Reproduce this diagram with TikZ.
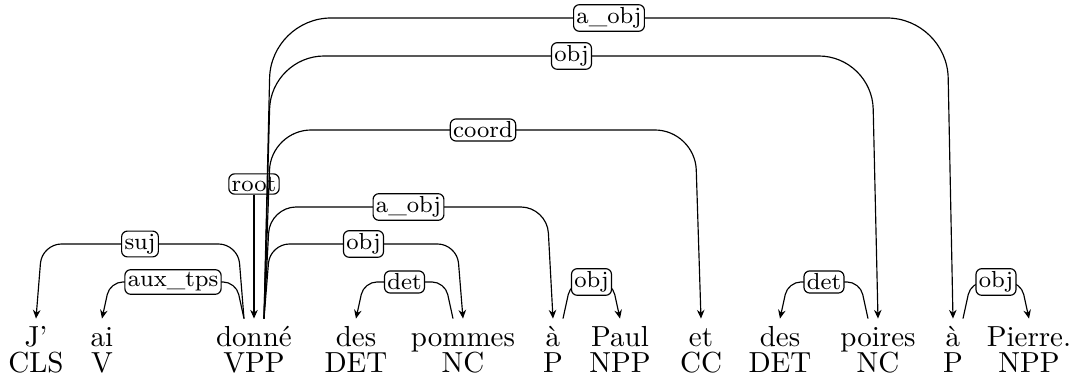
\documentclass[tikz,border=0pt]{standalone}
\usepackage{fontspec}
\usetikzlibrary{calc,arrows.meta}
\tikzset{
  word/.style={anchor=base, inner xsep=0pt, inner ysep=2pt, text height=7.6pt, text depth=0pt, font=\normalsize},
  tag/.style={anchor=base, inner sep=0pt, font=\normalsize},
  lab/.style={draw, fill=white, rounded corners=2pt, inner sep=1pt, font=\footnotesize, line width=0.4pt},
  dep/.style={draw, line width=0.4pt, -{Stealth[length=3pt,width=2.6pt]}},
}
\begin{document}
\begin{tikzpicture}[x=0.3448pt, y=-0.3448pt]
\useasboundingbox (0,0) rectangle (1077,379);
% levels
\coordinate (L1) at (0,282);
\coordinate (L2) at (0,244);
\coordinate (L3) at (0,207);
\coordinate (L5) at (0,130);
\coordinate (L7) at (0,56);
\coordinate (L8) at (0,18);
% words
\node[word] (w1) at (36,347) {J’};
\node[word] (w2) at (102,347) {ai};
\node[word] (w3) at (254,347) {donné};
\node[word] (w4) at (356,347) {des};
\node[word] (w5) at (463,347) {pommes};
\node[word] (w6) at (553,347) {à};
\node[word] (w7) at (620,347) {Paul};
\node[word] (w8) at (701,347) {et};
\node[word] (w9) at (780,347) {des};
\node[word] (w10) at (878,347) {poires};
\node[word] (w11) at (953,347) {à};
\node[word] (w12) at (1029,347) {Pierre.};
% tags
\node[tag] (t1) at (36,373) {CLS};
\node[tag] (t2) at (102,373) {V};
\node[tag] (t3) at (254,373) {VPP};
\node[tag] (t4) at (356,373) {DET};
\node[tag] (t5) at (463,373) {NC};
\node[tag] (t6) at (553,373) {P};
\node[tag] (t7) at (620,373) {NPP};
\node[tag] (t8) at (701,373) {CC};
\node[tag] (t9) at (780,373) {DET};
\node[tag] (t10) at (878,373) {NC};
\node[tag] (t11) at (953,373) {P};
\node[tag] (t12) at (1029,373) {NPP};
% root
\node[lab] (rt) at (254,184) {root};
\draw[dep] (rt) -- (w3.north);
% edges
\draw[dep, rounded corners=6.7pt] ($(w3.north)+(-10,0)$) -- ($(w3.north|-L2)+(-16,0)$) -- node[lab]{suj} ($(w1.north|-L2)+(6,0)$) -- (w1.north);
\draw[dep, rounded corners=4.4pt] ($(w3.north)+(-10,0)$) -- ($(w3.north|-L1)+(-18,0)$) -- node[lab]{aux\_tps} ($(w2.north|-L1)+(8,0)$) -- (w2.north);
\draw[dep, rounded corners=6.7pt] ($(w3.north)+(10,0)$) -- ($(w3.north|-L2)+(16,0)$) -- node[lab]{obj} ($(w5.north|-L2)+(-6,0)$) -- (w5.north);
\draw[dep, rounded corners=4.4pt] ($(w5.north)+(-10,0)$) -- ($(w5.north|-L1)+(-18,0)$) -- node[lab]{det} ($(w4.north|-L1)+(8,0)$) -- (w4.north);
\draw[dep, rounded corners=9pt] ($(w3.north)+(10,0)$) -- ($(w3.north|-L3)+(16,0)$) -- node[lab]{a\_obj} ($(w6.north|-L3)+(-6,0)$) -- (w6.north);
\draw[dep, rounded corners=4.4pt] ($(w6.north)+(10,0)$) -- ($(w6.north|-L1)+(18,0)$) -- node[lab]{obj} ($(w7.north|-L1)+(-8,0)$) -- (w7.north);
\draw[dep, rounded corners=13.8pt] ($(w3.north)+(10,0)$) -- ($(w3.north|-L5)+(17,0)$) -- node[lab]{coord} ($(w8.north|-L5)+(-6,0)$) -- (w8.north);
\draw[dep, rounded corners=4.4pt] ($(w10.north)+(-10,0)$) -- ($(w10.north|-L1)+(-18,0)$) -- node[lab]{det} ($(w9.north|-L1)+(8,0)$) -- (w9.north);
\draw[dep, rounded corners=18.3pt] ($(w3.north)+(10,0)$) -- ($(w3.north|-L7)+(17,0)$) -- node[lab]{obj} ($(w10.north|-L7)+(-6,0)$) -- (w10.north);
\draw[dep, rounded corners=20.7pt] ($(w3.north)+(10,0)$) -- ($(w3.north|-L8)+(17,0)$) -- node[lab]{a\_obj} ($(w11.north|-L8)+(-6,0)$) -- (w11.north);
\draw[dep, rounded corners=4.4pt] ($(w11.north)+(10,0)$) -- ($(w11.north|-L1)+(18,0)$) -- node[lab]{obj} ($(w12.north|-L1)+(-8,0)$) -- (w12.north);
\end{tikzpicture}
\end{document}
